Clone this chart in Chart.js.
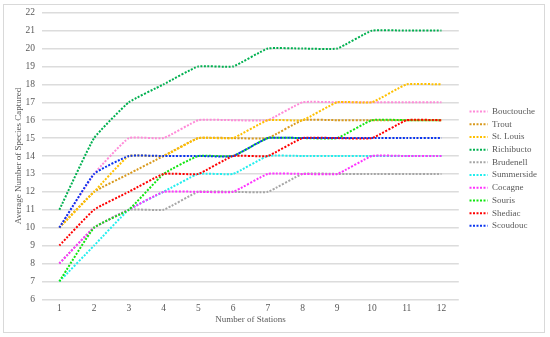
<!DOCTYPE html>
<html>
<head>
<meta charset="utf-8">
<script src="https://cdn.jsdelivr.net/npm/chart.js@4.4.1/dist/chart.umd.min.js"></script>
<style>
  html, body { margin: 0; padding: 0; background: #ffffff; }
  #wrap { position: relative; width: 550px; height: 337px; }
  #frame { position: absolute; left: 3px; top: 4px; width: 540px; height: 327px; border: 1px solid #d9d9d9; }
  canvas { position: absolute; left: 0; top: 0; }
</style>
</head>
<body>
<div id="wrap">
  <div id="frame"></div>
  <canvas id="c" width="550" height="337"></canvas>
</div>
<script>
const stations = ["1","2","3","4","5","6","7","8","9","10","11","12"];
const yTicks = [6,7,8,9,10,11,12,13,14,15,16,17,18,19,20,21,22];

const seriesNames = ["Bouctouche","Trout","St. Louis","Richibucto","Brudenell","Summerside","Cocagne","Souris","Shediac","Scoudouc"];
const bouctouche = [10,13,15,15,16,16,16,17,17,17,17,17];
const trout      = [10,12,13,14,15,15,15,16,16,16,16,16];
const stLouis    = [10,12,14,14,15,15,16,16,17,17,18,18];
const richibucto = [11,15,17,18,19,19,20,20,20,21,21,21];
const brudenell  = [8,10,11,11,12,12,12,13,13,13,13,13];
const summerside = [7,9,11,12,13,13,14,14,14,14,14,14];
const cocagne    = [8,10,11,12,12,12,13,13,13,14,14,14];
const souris     = [7,10,11,13,14,14,15,15,15,16,16,16];
const shediac    = [9,11,12,13,13,14,14,15,15,15,16,16];
const scoudouc   = [10,13,14,14,14,14,15,15,15,15,15,15];

const seriesValues = [bouctouche, trout, stLouis, richibucto, brudenell, summerside, cocagne, souris, shediac, scoudouc];
const seriesColors = ["#ff8ad8","#d99a1e","#ffc000","#00b050","#a6a6a6","#22eeee","#ff33ff","#11e611","#ff0000","#0a35f0"];

const serif = "'Liberation Serif', 'Times New Roman', serif";
const textColor = "#595959";

const datasets = seriesNames.map((name, i) => ({
  label: name,
  data: seriesValues[i],
  borderColor: seriesColors[i],
  backgroundColor: seriesColors[i],
  borderWidth: 2,
  borderDash: [2, 1.5],
  borderCapStyle: 'butt',
  pointRadius: 0,
  pointHoverRadius: 0,
  tension: 0.12,
  fill: false,
  order: seriesNames.length - i
}));

new Chart(document.getElementById('c'), {
  type: 'line',
  data: { labels: stations, datasets: datasets },
  options: {
    responsive: false,
    animation: false,
    devicePixelRatio: 1,
    layout: { padding: { left: 13.6, right: 3, top: 12, bottom: 11.6 } },
    plugins: {
      tooltip: { enabled: false },
      legend: {
        position: 'right',
        labels: {
          font: { family: serif, size: 9 },
          color: textColor,
          usePointStyle: true,
          pointStyle: 'line',
          pointStyleWidth: 18,
          boxHeight: 9,
          padding: 3.7,
          sort: (a, b) => a.datasetIndex - b.datasetIndex,
          generateLabels: (chart) => {
            const items = Chart.defaults.plugins.legend.labels.generateLabels(chart);
            items.forEach(it => {
              const ds = chart.data.datasets[it.datasetIndex];
              it.pointStyle = 'line';
              it.lineDash = [2, 1.5];
              it.lineWidth = 2;
              it.strokeStyle = ds.borderColor;
              it.fillStyle = ds.borderColor;
            });
            return items;
          }
        }
      }
    },
    scales: {
      x: {
        offset: true,
        grid: { display: false, drawTicks: false },
        border: { display: false },
        ticks: { font: { family: serif, size: 9.5 }, color: textColor, padding: 3, maxRotation: 0 },
        title: { display: true, text: 'Number of Stations', font: { family: serif, size: 9 }, color: textColor, padding: { top: 0, bottom: 0 } },
        afterFit: (scale) => { scale.height = 26.1; }
      },
      y: {
        min: 6, max: 22,
        afterBuildTicks: (scale) => { scale.ticks = yTicks.map(v => ({ value: v })); },
        grid: { color: '#dcdcdc', lineWidth: 1.5, drawTicks: false },
        border: { display: false },
        ticks: { font: { family: serif, size: 9.5 }, color: textColor, padding: 7 },
        title: { display: true, text: 'Average Number of Species Captured', font: { family: serif, size: 9 }, color: textColor, padding: { top: 0, bottom: 0 } },
        afterFit: (scale) => { scale.width = 28.4; }
      },
      gap: {
        type: 'linear',
        position: 'right',
        display: true,
        grid: { display: false, drawTicks: false },
        border: { display: false },
        ticks: { display: false },
        afterFit: (scale) => { scale.width = 7; }
      }
    }
  }
});
</script>
</body>
</html>
